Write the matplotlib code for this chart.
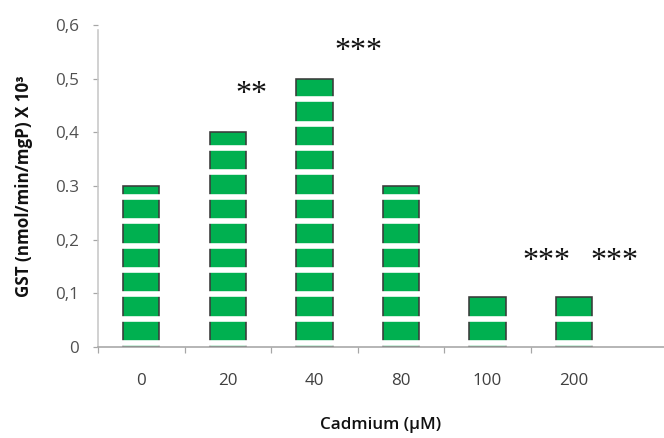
import matplotlib
matplotlib.use("Agg")
import matplotlib.pyplot as plt
import numpy as np

# donnees
categories = ["0", "20", "40", "80", "100", "200"]
gst = [0.30, 0.40, 0.50, 0.30, 0.093, 0.093]
stars = ["", "**", "***", "", "***", "***"]
y_ticks = [0, 0.1, 0.2, 0.3, 0.4, 0.5, 0.6]
y_labels = ["0", "0,1", "0,2", "0.3", "0,4", "0,5", "0,6"]

# decalage des etoiles par rapport aux barres (mise en page)
star_dx = [0, 0.27, 0.51, 0, 0.68, 0.47]
star_dy = [0, 0.071, 0.051, 0, 0.067, 0.067]

# motif des bandes blanches dans les barres
stripe_start = 0.0074
stripe_step = 0.0454

green = "#00b050"
grey = "#a6a6a6"

plt.rcParams["font.family"] = ["Open Sans", "DejaVu Sans"]

DPI = 144
fig = plt.figure(figsize=(664 / DPI, 438 / DPI), dpi=DPI)
ax = fig.add_axes([98 / 664, 1 - 347 / 438, 1 - 98 / 664, (347 - 25) / 438])

x = np.arange(len(categories))
width = 0.42
ax.bar(x, gst, width=width, color=green, edgecolor="#3a3a3a", linewidth=0.8, zorder=2)

# bandes blanches horizontales
for i, v in enumerate(gst):
    ys = np.arange(stripe_start, v - 0.008, stripe_step)
    ax.hlines(ys, x[i] - width / 2 - 0.02, x[i] + width / 2 + 0.02,
              color="white", linewidth=2.8, zorder=3)

for i, s in enumerate(stars):
    if s:
        ax.text(x[i] + star_dx[i], gst[i] + star_dy[i], s, ha="center", va="center",
                fontsize=16, family="Liberation Serif", color="#111111")

ax.set_xlim(-0.5, 6.04)
ax.set_ylim(0, 0.6)

ax.set_yticks(y_ticks)
ax.set_yticklabels(y_labels)
ax.set_xticks(x)
ax.set_xticklabels(categories)
ax.set_xticks(np.arange(-0.5, 5.0, 1.0), minor=True)

ax.tick_params(axis="y", direction="out", length=2.5, width=0.6, color=grey,
               labelsize=8.5, labelcolor="#505050", pad=7)
ax.tick_params(axis="x", which="major", length=0, labelsize=8.5,
               labelcolor="#404040", pad=13)
ax.tick_params(axis="x", which="minor", direction="out", length=3, width=0.6, color=grey)

for side in ["top", "right"]:
    ax.spines[side].set_visible(False)
ax.spines["left"].set_color("#c8c8c8")
ax.spines["left"].set_linewidth(0.8)
ax.spines["left"].set_bounds(0, 0.59)
ax.spines["bottom"].set_color(grey)
ax.spines["bottom"].set_linewidth(0.8)
ax.spines["bottom"].set_zorder(4)

ax.set_xlabel("Cadmium (µM)", fontsize=8.5, fontweight="semibold",
              color="#111111", labelpad=14)
ax.set_ylabel("GST (nmol/min/mgP) X 10³", fontsize=8.5, fontweight="bold",
              color="#111111", labelpad=11)

fig.savefig("out.png", dpi=DPI)
